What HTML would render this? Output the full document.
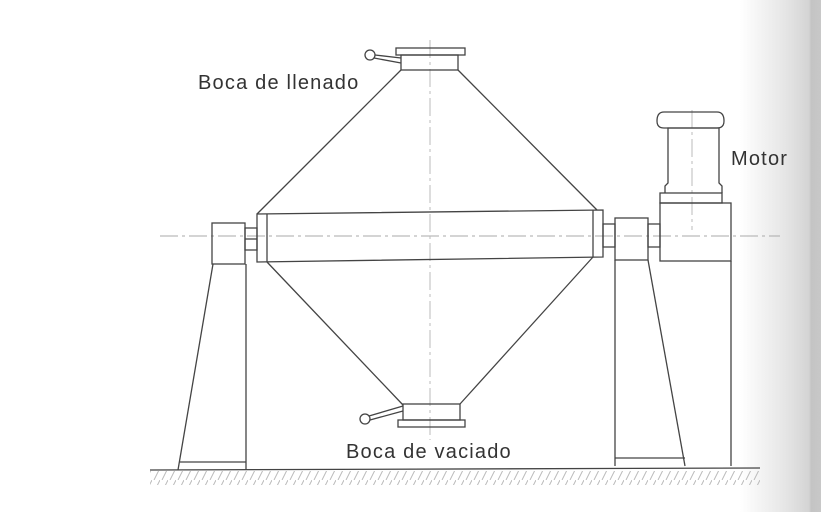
<!DOCTYPE html>
<html><head><meta charset="utf-8"><style>
html,body{margin:0;padding:0;}
body{width:821px;height:512px;overflow:hidden;background:#fff;position:relative;}
.g{position:absolute;left:740px;top:0;width:81px;height:512px;background:linear-gradient(to right,rgba(255,255,255,0),#e6e6e6 55%,#d4d4d4 85%,#c4c4c4 88%,#c8c8c8);}
svg{position:absolute;left:0;top:0;}
text{font-family:"Liberation Sans",sans-serif;font-size:20px;letter-spacing:1.2px;fill:#333;}
</style></head><body>
<div class="g"></div>
<svg width="821" height="512" viewBox="0 0 821 512">
<defs><pattern id="h" width="8" height="12" patternUnits="userSpaceOnUse"><line x1="8" y1="0" x2="2" y2="12" stroke="#bbb" stroke-width="1"/></pattern></defs>
<g fill="none" stroke="#444" stroke-width="1.3">
<line x1="160" y1="236" x2="780" y2="236" stroke="#aaa" stroke-width="1" stroke-dasharray="18,4,3,4"/>
<line x1="430" y1="40" x2="430" y2="440" stroke="#bbb" stroke-width="1" stroke-dasharray="18,4,3,4"/>
<line x1="692" y1="110" x2="692" y2="230" stroke="#bbb" stroke-width="1" stroke-dasharray="18,4,3,4"/>
<rect x="396" y="48" width="69" height="7"/>
<rect x="401" y="55" width="57" height="15"/>
<circle cx="370" cy="55" r="5"/>
<line x1="375" y1="55" x2="401" y2="58"/><line x1="374" y1="58" x2="401" y2="63"/>
<line x1="401" y1="70" x2="257" y2="214"/>
<line x1="458" y1="70" x2="597" y2="210"/>
<line x1="267" y1="262" x2="403" y2="405"/>
<line x1="593" y1="257" x2="460" y2="404"/>
<polygon points="257,214 603,210 603,257 257,262"/>
<line x1="267" y1="214" x2="267" y2="262"/>
<line x1="593" y1="210" x2="593" y2="257"/>
<rect x="403" y="404" width="57" height="16"/>
<rect x="398" y="420" width="67" height="7"/>
<circle cx="365" cy="419" r="5"/>
<line x1="369" y1="416" x2="403" y2="406"/><line x1="370" y1="420" x2="403" y2="411"/>
<rect x="245" y="228" width="12" height="22"/>
<line x1="245" y1="239" x2="257" y2="239"/>
<rect x="212" y="223" width="33" height="41"/>
<line x1="246" y1="264" x2="246" y2="470"/>
<line x1="213" y1="264" x2="178" y2="470"/>
<line x1="180" y1="462" x2="246" y2="462"/>
<rect x="603" y="224" width="12" height="23"/>
<rect x="615" y="218" width="33" height="42"/>
<rect x="648" y="224" width="12" height="23"/>
<rect x="660" y="203" width="71" height="58"/>
<line x1="615" y1="260" x2="615" y2="466"/>
<line x1="648" y1="260" x2="685" y2="466"/>
<line x1="731" y1="261" x2="731" y2="466"/>
<line x1="615" y1="458" x2="685" y2="458"/>
<rect x="660" y="193" width="62" height="10"/>
<path d="M665,193 L665,186 L668,183 L668,128 L719,128 L719,183 L722,186 L722,193"/>
<path d="M664,128 Q657,128 657,121 Q657,112 664,112 L717,112 Q724,112 724,121 Q724,128 717,128 Z"/>
<line x1="150" y1="470" x2="760" y2="468"/>
</g>
<rect x="150" y="471" width="610" height="14" fill="url(#h)"/>
<text x="198" y="89">Boca de llenado</text>
<text x="731" y="165">Motor</text>
<text x="346" y="458">Boca de vaciado</text>
</svg>
</body></html>
